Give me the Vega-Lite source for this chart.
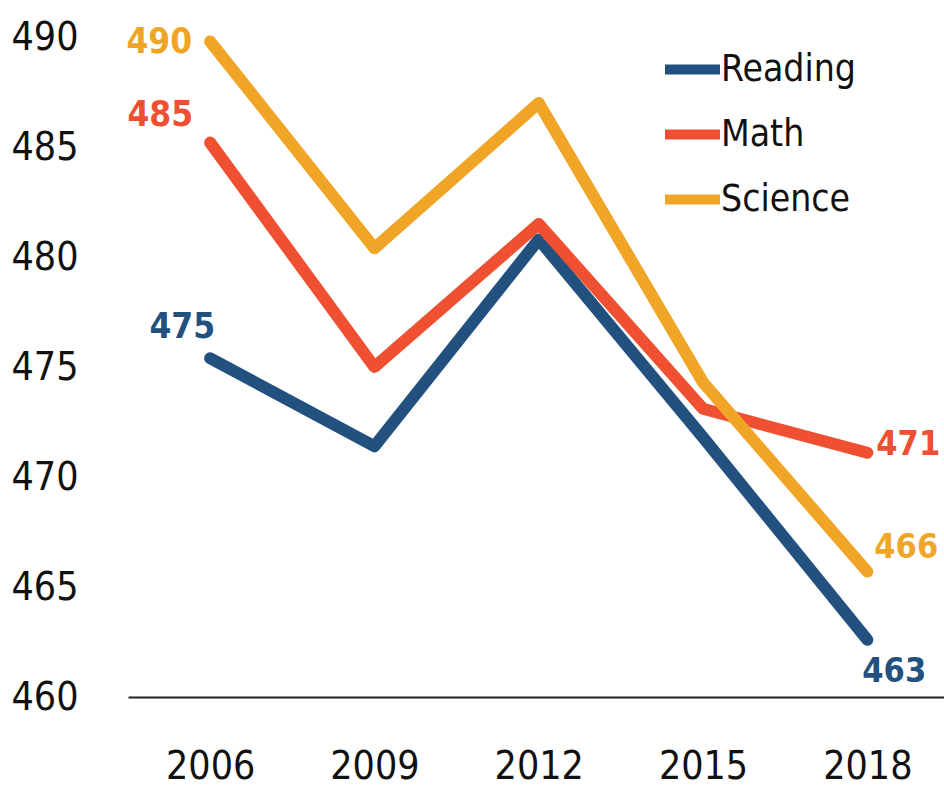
{
  "$schema": "https://vega.github.io/schema/vega-lite/v6.json",
  "width": 816,
  "height": 660,
  "autosize": "none",
  "padding": {"left": 128, "top": 37, "right": 0, "bottom": 90},
  "background": "white",
  "config": {
    "view": {"stroke": null},
    "font": "DejaVu Sans Condensed",
    "axis": {"labelFont": "DejaVu Sans Condensed", "labelColor": "#111", "grid": false, "ticks": false, "title": null},
    "legend": {"labelFont": "DejaVu Sans Condensed"}
  },
  "data": {
    "values": [
      {"year": 2006, "subject": "Reading", "score": 475.4},
      {"year": 2009, "subject": "Reading", "score": 471.4},
      {"year": 2012, "subject": "Reading", "score": 480.8},
      {"year": 2015, "subject": "Reading", "score": 471.8},
      {"year": 2018, "subject": "Reading", "score": 462.6},
      {"year": 2006, "subject": "Math", "score": 485.2},
      {"year": 2009, "subject": "Math", "score": 475.0},
      {"year": 2012, "subject": "Math", "score": 481.5},
      {"year": 2015, "subject": "Math", "score": 473.1},
      {"year": 2018, "subject": "Math", "score": 471.1},
      {"year": 2006, "subject": "Science", "score": 489.8},
      {"year": 2009, "subject": "Science", "score": 480.4},
      {"year": 2012, "subject": "Science", "score": 487.0},
      {"year": 2015, "subject": "Science", "score": 474.3},
      {"year": 2018, "subject": "Science", "score": 465.7}
    ]
  },
  "encoding": {
    "x": {
      "field": "year", "type": "quantitative",
      "scale": {"domain": [2004.5, 2019.4], "nice": false, "zero": false},
      "axis": {"values": [2006, 2009, 2012, 2015, 2018], "format": "d", "labelFontSize": 39, "labelPadding": 50, "domainColor": "#222", "domainWidth": 2, "labelFlush": false, "labelOverlap": false}
    },
    "y": {
      "field": "score", "type": "quantitative",
      "scale": {"domain": [460, 490], "nice": false, "zero": false},
      "axis": {"values": [460, 465, 470, 475, 480, 485, 490], "domain": false, "labelFontSize": 39, "labelPadding": 50, "labelFlush": false, "labelOverlap": false}
    },
    "color": {
      "field": "subject", "type": "nominal",
      "scale": {"domain": ["Reading", "Math", "Science"], "range": ["#22507f", "#f05032", "#f0a526"]},
      "legend": {
        "title": null, "orient": "none", "legendX": 532, "legendY": 0,
        "symbolType": "stroke", "symbolSize": 3025, "symbolStrokeWidth": 10,
        "labelFontSize": 37, "labelColor": "#111", "labelOffset": -4, "rowPadding": 12, "padding": 0
      }
    }
  },
  "layer": [
    {"transform": [{"filter": "datum.subject === 'Reading'"}], "mark": {"type": "line", "strokeWidth": 12, "strokeCap": "round", "strokeJoin": "round"}},
    {"transform": [{"filter": "datum.subject === 'Math'"}], "mark": {"type": "line", "strokeWidth": 12, "strokeCap": "round", "strokeJoin": "round"}},
    {"transform": [{"filter": "datum.subject === 'Science'"}], "mark": {"type": "line", "strokeWidth": 12, "strokeCap": "round", "strokeJoin": "round"}},
    {"transform": [{"filter": "datum.subject === 'Science' && datum.year === 2006"}], "mark": {"type": "text", "align": "right", "baseline": "middle", "dx": -18, "dy": 1, "fontSize": 35, "fontWeight": "bold"}, "encoding": {"text": {"field": "score", "type": "quantitative", "format": ".0f"}}},
    {"transform": [{"filter": "datum.subject === 'Math' && datum.year === 2006"}], "mark": {"type": "text", "align": "right", "baseline": "middle", "dx": -17, "dy": -28, "fontSize": 35, "fontWeight": "bold"}, "encoding": {"text": {"field": "score", "type": "quantitative", "format": ".0f"}}},
    {"transform": [{"filter": "datum.subject === 'Reading' && datum.year === 2006"}], "mark": {"type": "text", "align": "right", "baseline": "middle", "dx": 5, "dy": -31, "fontSize": 35, "fontWeight": "bold"}, "encoding": {"text": {"field": "score", "type": "quantitative", "format": ".0f"}}},
    {"transform": [{"filter": "datum.subject === 'Math' && datum.year === 2018"}], "mark": {"type": "text", "align": "left", "baseline": "middle", "dx": 9, "dy": -8, "fontSize": 34, "fontWeight": "bold"}, "encoding": {"text": {"field": "score", "type": "quantitative", "format": ".0f"}}},
    {"transform": [{"filter": "datum.subject === 'Science' && datum.year === 2018"}], "mark": {"type": "text", "align": "left", "baseline": "middle", "dx": 7, "dy": -24, "fontSize": 34, "fontWeight": "bold"}, "encoding": {"text": {"field": "score", "type": "quantitative", "format": ".0f"}}},
    {"transform": [{"filter": "datum.subject === 'Reading' && datum.year === 2018"}], "mark": {"type": "text", "align": "left", "baseline": "middle", "dx": -5, "dy": 32, "fontSize": 34, "fontWeight": "bold"}, "encoding": {"text": {"field": "score", "type": "quantitative", "format": ".0f"}}}
  ]
}
